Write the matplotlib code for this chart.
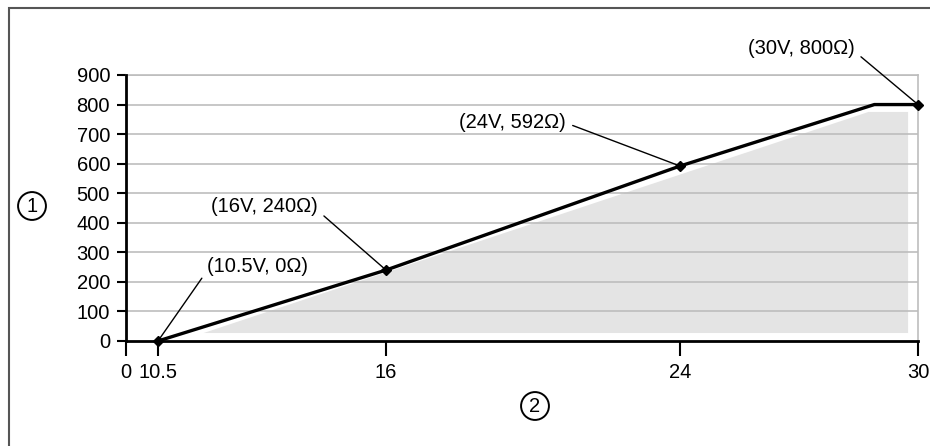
import numpy as np
import matplotlib
matplotlib.use("Agg")
import matplotlib.pyplot as plt
from matplotlib.patches import Rectangle

plt.rcParams['font.family'] = ['Liberation Sans', 'DejaVu Sans']

# supply voltage (V) vs permissible load resistance (ohm)
volts = [10.5, 16, 24, 28.9, 30]
ohms = [0, 240, 592, 800, 800]
marked = [0, 1, 2, 4]

# shaded operating area
shade_v = [11.6, 28.75, 29.75, 29.75]
shade_r = [27, 775, 775, 27]

xticks = [0, 10.5, 16, 24, 30]
xticklabels = ["0", "10.5", "16", "24", "30"]
inner_ticks = [10.5, 16, 24]
yticks = [0, 100, 200, 300, 400, 500, 600, 700, 800, 900]

labels = ["(10.5V, 0\u03a9)", "(16V, 240\u03a9)", "(24V, 592\u03a9)", "(30V, 800\u03a9)"]

# schematic (broken) voltage axis: tick value -> relative position
knots = [0, 10.5, 16, 24, 30]
knot_pos = [0, 32, 260, 554, 792]

def fwd(v):
    return np.interp(v, knots, knot_pos)

def inv(p):
    return np.interp(p, knot_pos, knots)

W, H = 930, 446
fig = plt.figure(figsize=(W / 100, H / 100), dpi=100)
ax = fig.add_axes([126 / W, 1 - 341 / H, 792 / W, 266 / H])
ax.set_xscale('function', functions=(fwd, inv))
ax.set_xlim(0, 30)
ax.set_ylim(0, 900)

grid_c = '#bdbdbd'
for y in yticks[1:]:
    ax.axhline(y, color=grid_c, lw=1.2, zorder=1)

ax.fill(shade_v, shade_r, color='#e4e4e4', lw=0, zorder=0.5)

ax.plot(volts, ohms, color='black', lw=2.4, marker='D', markersize=5.5,
        markevery=marked, zorder=3, clip_on=False)

for s in ['top', 'right']:
    ax.spines[s].set_color(grid_c)
    ax.spines[s].set_linewidth(1.2)
for s in ['left', 'bottom']:
    ax.spines[s].set_color('black')
    ax.spines[s].set_linewidth(2)
    ax.spines[s].set_zorder(4)

ax.set_xticks(xticks)
ax.set_xticklabels(xticklabels)
ax.set_xticks(inner_ticks, minor=True)
ax.set_yticks(yticks)
ax.tick_params(axis='x', which='major', direction='out', length=11, width=1.5,
               pad=4.5, labelsize=14.5)
ax.tick_params(axis='x', which='minor', direction='in', length=5.5, width=1.5)
ax.tick_params(axis='y', direction='out', length=6.5, width=1.5, pad=5, labelsize=14.5)

# point labels with leader lines
text_pos = [(207, 179), (318, 239), (566, 324), (855, 398)]
aligns = ['left', 'right', 'right', 'right']
rel = [(0, 0.3), (1, 0.3), (1, 0.45), (1, 0.3)]
for i, k in enumerate(marked):
    ax.annotate(labels[i], xy=(volts[k], ohms[k]), xytext=text_pos[i],
                textcoords='figure pixels', ha=aligns[i], va='center',
                fontsize=14.5, zorder=5, annotation_clip=False,
                arrowprops=dict(arrowstyle='-', lw=1, color='black',
                                shrinkA=3, shrinkB=0, relpos=rel[i]))

# circled axis markers
circ = dict(boxstyle='circle,pad=0.22', fc='white', ec='black', lw=1.4)
fig.text(32 / W, 1 - 206 / H, "1", fontsize=14.5, ha='center', va='center', bbox=circ)
fig.text(535 / W, 1 - 406 / H, "2", fontsize=14.5, ha='center', va='center', bbox=circ)

# outer frame
fig.patches.append(Rectangle((9 / W, -0.1), 1.2, 1.1 - 8.5 / H,
                             transform=fig.transFigure, fill=False,
                             ec='#555555', lw=1.5))

fig.savefig('out.png', dpi=100)
